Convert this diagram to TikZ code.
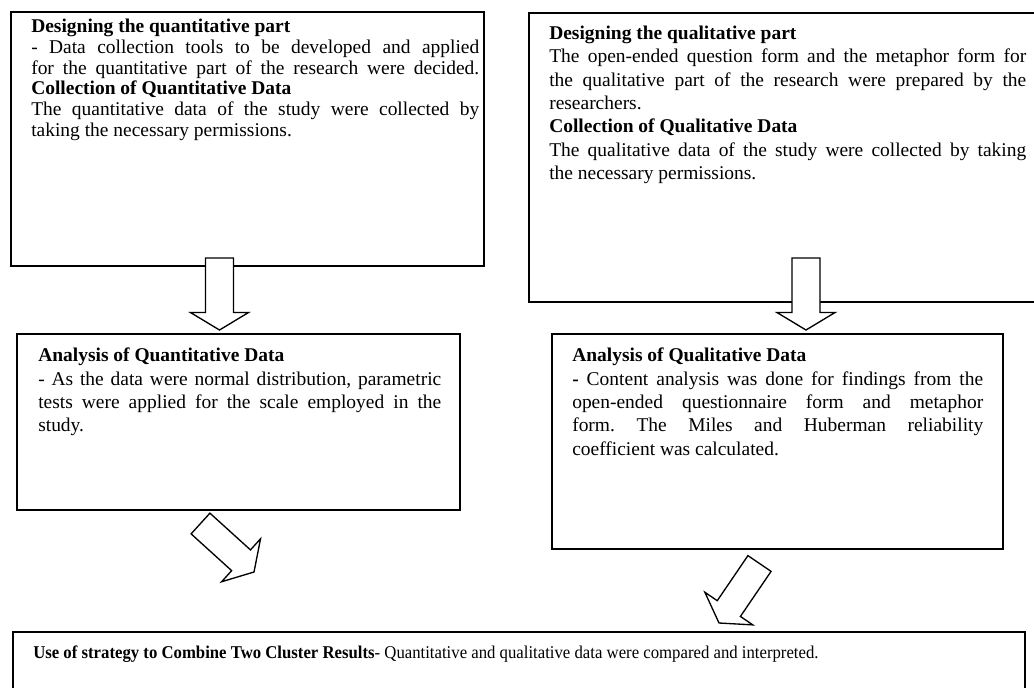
\documentclass[tikz,border=0pt]{standalone}
\usepackage{fontspec}
\setmainfont{Liberation Serif}
\usetikzlibrary{calc}
\frenchspacing

% hollow block arrow from #1 (middle of tail) to #2 (tip)
\newcommand{\blockarrow}[2]{%
  \coordinate (neck) at ($#2!13.1pt!#1$);
  \draw [arrowshape] ($#1!10.5pt!90:#2$) -- ($(neck)!10.5pt!90:#2$) -- ($(neck)!21.75pt!90:#2$) -- #2
    -- ($(neck)!21.75pt!-90:#2$) -- ($(neck)!10.5pt!-90:#2$) -- ($#1!10.5pt!-90:#2$) -- cycle;}

\begin{document}
\begin{tikzpicture}[x=0.75pt,y=0.75pt,yscale=-1,xscale=1,
    panel/.style={draw, line width=1.1pt, inner sep=0pt},
    boxtext/.style={anchor=north west, inner sep=0pt, align=justify, font=\fontsize{14.6pt}{17.5pt}\selectfont},
    arrowshape/.style={draw, fill=white, line width=1pt, line join=miter}]
    \path [use as bounding box] (0,0) rectangle (1034,688);

    %Shape: Rectangle
    \node [panel, minimum width=354.75pt, minimum height=190.5pt] (quantbox) at (247.5,139) {};
    %Shape: Rectangle
    \node [panel, minimum width=383.25pt, minimum height=216.75pt] (qualbox) at (784.5,157.5) {};
    %Shape: Rectangle
    \node [panel, minimum width=332.25pt, minimum height=132pt] (quantanal) at (238.5,422) {};
    %Shape: Rectangle
    \node [panel, minimum width=338.25pt, minimum height=161.25pt] (qualanal) at (777.5,441.5) {};
    %Shape: Rectangle
    \node [panel, minimum width=759pt, minimum height=45pt] (mixbox) at (519,662) {};

    %Block Arrows
    \coordinate (quanttail) at (219.5,258);
    \coordinate (quanttip) at (219.5,330);
    \coordinate (qualtail) at (806,258);
    \coordinate (qualtip) at (806,330);
    \coordinate (lefttail) at (200.5,523.5);
    \coordinate (lefttip) at (254,572);
    \coordinate (righttail) at (759.5,563.5);
    \coordinate (righttip) at (719,623);
    \blockarrow{(quanttail)}{(quanttip)}
    \blockarrow{(qualtail)}{(qualtip)}
    \blockarrow{(lefttail)}{(lefttip)}
    \blockarrow{(righttail)}{(righttip)}

    % Text Node
    \node [boxtext, text width=336pt, font=\fontsize{14.6pt}{15.6pt}\selectfont] (quanttext) at (31,18.7)
    {\textbf{Designing the quantitative part}\\
    - Data collection tools to be developed and applied\linebreak
    for the quantitative part of the research were decided.\linebreak
    \textbf{Collection of Quantitative Data}\\
    The quantitative data of the study were collected by\linebreak
    taking the necessary permissions.};
    % Text Node
    \node [boxtext, text width=357.75pt] (qualtext) at (549,25.7)
    {\textbf{Designing the qualitative part}\\
    The open-ended question form and the metaphor form for\linebreak
    the qualitative part of the research were prepared by the\linebreak
    researchers.\\
    \textbf{Collection of Qualitative Data}\\
    The qualitative data of the study were collected by taking\linebreak
    the necessary permissions.};
    % Text Node
    \node [boxtext, text width=302.25pt] (quantanaltext) at (38,347.7)
    {\textbf{Analysis of Quantitative Data}\\
    - As the data were normal distribution, parametric\linebreak
    tests were applied for the scale employed in the\linebreak
    study.};
    % Text Node
    \node [boxtext, text width=308.25pt] (qualanaltext) at (572,347.7)
    {\textbf{Analysis of Qualitative Data}\\
    \textbf{-} Content analysis was done for findings from the\linebreak
    open-ended questionnaire form and metaphor\linebreak
    form. The Miles and Huberman reliability\linebreak
    coefficient was calculated.};
    % Text Node
    \node [anchor=base west, inner sep=0pt, font=\fontsize{13.5pt}{15pt}\selectfont] (mixtext) at (33,658)
    {\scalebox{0.93}[1]{\textbf{Use of strategy to Combine Two Cluster Results}- Quantitative and qualitative data were compared and interpreted.}};

\end{tikzpicture}
\end{document}
